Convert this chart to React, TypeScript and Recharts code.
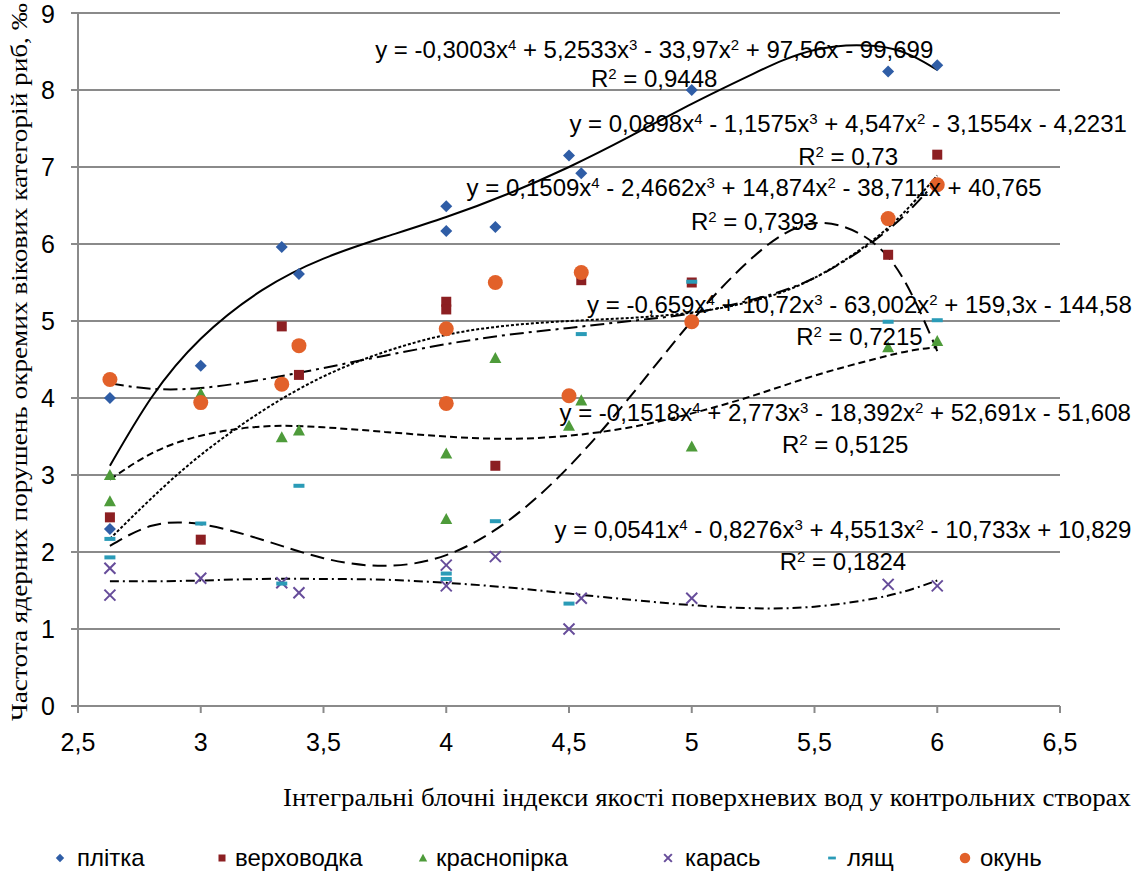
import React from 'react';
import { ComposedChart, Scatter, Line, XAxis, YAxis, CartesianGrid } from 'recharts';

// axis ticks
const xTicks = [2.5, 3, 3.5, 4, 4.5, 5, 5.5, 6, 6.5];
const yTicks = [0, 1, 2, 3, 4, 5, 6, 7, 8, 9];

// observed points per species
const plitka = [
  { x: 2.63, y: 4.0 }, { x: 2.63, y: 2.3 }, { x: 3.0, y: 4.42 }, { x: 3.33, y: 5.96 },
  { x: 3.4, y: 5.61 }, { x: 4.0, y: 6.49 }, { x: 4.0, y: 6.17 }, { x: 4.2, y: 6.22 },
  { x: 4.5, y: 7.15 }, { x: 4.55, y: 6.92 }, { x: 5.0, y: 8.0 }, { x: 5.8, y: 8.24 },
  { x: 6.0, y: 8.32 },
];
const verkhovodka = [
  { x: 2.63, y: 2.45 }, { x: 3.0, y: 2.16 }, { x: 3.33, y: 4.93 }, { x: 3.4, y: 4.3 },
  { x: 4.0, y: 5.25 }, { x: 4.0, y: 5.15 }, { x: 4.2, y: 3.12 }, { x: 4.55, y: 5.53 },
  { x: 5.0, y: 5.5 }, { x: 5.8, y: 5.86 }, { x: 6.0, y: 7.16 },
];
const krasnopirka = [
  { x: 2.63, y: 3.0 }, { x: 2.63, y: 2.66 }, { x: 3.0, y: 4.06 }, { x: 3.33, y: 3.49 },
  { x: 3.4, y: 3.58 }, { x: 4.0, y: 3.28 }, { x: 4.0, y: 2.43 }, { x: 4.2, y: 4.52 },
  { x: 4.5, y: 3.64 }, { x: 4.55, y: 3.97 }, { x: 5.0, y: 3.37 }, { x: 5.8, y: 4.66 },
  { x: 6.0, y: 4.74 },
];
const karas = [
  { x: 2.63, y: 1.79 }, { x: 2.63, y: 1.44 }, { x: 3.0, y: 1.66 }, { x: 3.33, y: 1.6 },
  { x: 3.4, y: 1.47 }, { x: 4.0, y: 1.83 }, { x: 4.0, y: 1.56 }, { x: 4.2, y: 1.94 },
  { x: 4.5, y: 1.0 }, { x: 4.55, y: 1.4 }, { x: 5.0, y: 1.4 }, { x: 5.8, y: 1.58 },
  { x: 6.0, y: 1.56 },
];
const lyashch = [
  { x: 2.63, y: 2.17 }, { x: 2.63, y: 1.93 }, { x: 3.0, y: 2.37 }, { x: 3.33, y: 1.59 },
  { x: 3.4, y: 2.86 }, { x: 4.0, y: 1.65 }, { x: 4.0, y: 1.72 }, { x: 4.2, y: 2.4 },
  { x: 4.5, y: 1.33 }, { x: 4.55, y: 4.83 }, { x: 5.0, y: 5.51 }, { x: 5.8, y: 4.99 },
  { x: 6.0, y: 5.01 },
];
const okun = [
  { x: 2.63, y: 4.24 }, { x: 3.0, y: 3.94 }, { x: 3.33, y: 4.18 }, { x: 3.4, y: 4.68 },
  { x: 4.0, y: 4.9 }, { x: 4.0, y: 3.93 }, { x: 4.2, y: 5.5 }, { x: 4.5, y: 4.03 },
  { x: 4.55, y: 5.63 }, { x: 5.0, y: 4.99 }, { x: 5.8, y: 6.33 }, { x: 6.0, y: 6.77 },
];

// trend curves
const trendX = [2.63, 2.8, 3.0, 3.25, 3.5, 3.75, 4.0, 4.25, 4.5, 4.75, 5.0, 5.25, 5.5, 5.75, 5.9, 6.0];
const plitkaTrend = [3.12, 4.01, 4.77, 5.4, 5.81, 6.09, 6.35, 6.65, 7.0, 7.4, 7.82, 8.21, 8.52, 8.57, 8.44, 8.26];
const verkhovodkaTrend = [2.17, 2.7, 3.26, 3.83, 4.28, 4.6, 4.82, 4.94, 5.0, 5.04, 5.11, 5.26, 5.56, 6.08, 6.53, 6.89];
const krasnopirkaTrend = [2.94, 3.28, 3.51, 3.63, 3.62, 3.56, 3.5, 3.47, 3.51, 3.62, 3.8, 4.03, 4.29, 4.51, 4.62, 4.66];
const karasTrend = [1.62, 1.62, 1.63, 1.65, 1.65, 1.64, 1.6, 1.54, 1.46, 1.38, 1.31, 1.27, 1.29, 1.4, 1.52, 1.63];
const lyashchTrend = [2.08, 2.34, 2.36, 2.16, 1.92, 1.82, 1.96, 2.4, 3.11, 4.02, 5.0, 5.83, 6.27, 5.99, 5.32, 4.61];
const okunTrend = [4.19, 4.12, 4.13, 4.24, 4.39, 4.55, 4.7, 4.82, 4.91, 5.0, 5.1, 5.28, 5.56, 6.06, 6.48, 6.83];

// trendline equations and R², anchored in data units
const equations = [
  { x: 4.847, y: 8.42, text: 'y = -0,3003x⁴ + 5,2533x³ - 33,97x² + 97,56x - 99,699' },
  { x: 4.847, y: 8.04, text: 'R² = 0,9448' },
  { x: 5.637, y: 7.46, text: 'y = 0,0898x⁴ - 1,1575x³ + 4,547x² - 3,1554x - 4,2231' },
  { x: 5.637, y: 7.03, text: 'R² = 0,73' },
  { x: 5.254, y: 6.62, text: 'y = 0,1509x⁴ - 2,4662x³ + 14,874x² - 38,711x + 40,765' },
  { x: 5.254, y: 6.18, text: 'R² = 0,7393' },
  { x: 5.683, y: 5.1, text: 'y = -0,659x⁴ + 10,72x³ - 63,002x² + 159,3x - 144,58' },
  { x: 5.683, y: 4.69, text: 'R² = 0,7215' },
  { x: 5.625, y: 3.7, text: 'y = -0,1518x⁴ + 2,773x³ - 18,392x² + 52,691x - 51,608' },
  { x: 5.625, y: 3.29, text: 'R² = 0,5125' },
  { x: 5.616, y: 2.18, text: 'y = 0,0541x⁴ - 0,8276x³ + 4,5513x² - 10,733x + 10,829' },
  { x: 5.616, y: 1.77, text: 'R² = 0,1824' },
];

const SANS = '"Liberation Sans", Arial, sans-serif';
const SERIF = '"Liberation Serif", "Times New Roman", serif';
const GRID = '#8a8a8a';

const toPts = (ys: number[]) => trendX.map((x, i) => ({ x, y: ys[i] }));

const series = [
  { name: 'плітка', data: plitka, trend: plitkaTrend, color: '#2f5da6', marker: 'diamond', dash: undefined },
  { name: 'верховодка', data: verkhovodka, trend: verkhovodkaTrend, color: '#8c1f22', marker: 'square', dash: '3 2' },
  { name: 'краснопірка', data: krasnopirka, trend: krasnopirkaTrend, color: '#4e9b3a', marker: 'triangle', dash: '7 4' },
  { name: 'карась', data: karas, trend: karasTrend, color: '#664c9a', marker: 'cross', dash: '9 4 2 4' },
  { name: 'лящ', data: lyashch, trend: lyashchTrend, color: '#2a9bb7', marker: 'dash', dash: '14 7' },
  { name: 'окунь', data: okun, trend: okunTrend, color: '#e2612a', marker: 'circle', dash: '14 5 3 5' },
];

function marker(kind: string, cx: number, cy: number, color: string, s = 1) {
  if (kind === 'diamond') {
    const r = 6 * s;
    return <polygon points={`${cx},${cy - r} ${cx + r},${cy} ${cx},${cy + r} ${cx - r},${cy}`} fill={color} />;
  }
  if (kind === 'square') {
    const h = 5 * s;
    return <rect x={cx - h} y={cy - h} width={2 * h} height={2 * h} fill={color} />;
  }
  if (kind === 'triangle') {
    const h = 6 * s;
    return <polygon points={`${cx},${cy - h} ${cx + h},${cy + h * 0.85} ${cx - h},${cy + h * 0.85}`} fill={color} />;
  }
  if (kind === 'cross') {
    const h = 5.5 * s;
    return (
      <g stroke={color} strokeWidth={2}>
        <line x1={cx - h} y1={cy - h} x2={cx + h} y2={cy + h} />
        <line x1={cx - h} y1={cy + h} x2={cx + h} y2={cy - h} />
      </g>
    );
  }
  if (kind === 'dash') {
    return <rect x={cx - 5.5 * s} y={cy - 2 * s} width={11 * s} height={4 * s} fill={color} />;
  }
  return <circle cx={cx} cy={cy} r={7.5 * s} fill={color} />;
}

// x⁴ etc. drawn as raised small digits
const SUP: Record<string, string> = { '⁴': '4', '³': '3', '²': '2' };
function eqParts(text: string) {
  const pieces = text.split(/([⁴³²])/).filter((p) => p !== '');
  let raised = false;
  return pieces.map((p, i) => {
    if (SUP[p]) {
      raised = true;
      return (
        <tspan key={i} dy={-8} fontSize={15}>
          {SUP[p]}
        </tspan>
      );
    }
    const dy = raised ? 8 : undefined;
    raised = false;
    return (
      <tspan key={i} dy={dy}>
        {p}
      </tspan>
    );
  });
}

const legendPos = [
  { m: 60, t: 77 },
  { m: 222, t: 235 },
  { m: 423, t: 436 },
  { m: 668, t: 685 },
  { m: 832, t: 847 },
  { m: 965, t: 980 },
];

export default function App() {
  return (
    <div style={{ position: 'absolute', left: 0, top: 0, width: 1137, height: 872, background: '#fff' }}>
      <ComposedChart width={1137} height={872} margin={{ top: 13, right: 77, left: 0, bottom: 106 }}>
        <CartesianGrid vertical={false} stroke={GRID} strokeWidth={2} />
        <XAxis
          type="number"
          dataKey="x"
          domain={[2.5, 6.5]}
          ticks={xTicks}
          height={60}
          stroke={GRID}
          strokeWidth={2}
          tickSize={7}
          tickMargin={20}
          tick={{ fill: '#000', fontSize: 25, fontFamily: SANS }}
          tickFormatter={(v) => String(v).replace('.', ',')}
        />
        <YAxis
          type="number"
          domain={[0, 9]}
          ticks={yTicks}
          width={78}
          stroke={GRID}
          strokeWidth={2}
          tickSize={7}
          tickMargin={16}
          tick={{ fill: '#000', fontSize: 25, fontFamily: SANS }}
        />
        {series.map((s) => (
          <Scatter
            key={s.name}
            name={s.name}
            data={s.data}
            dataKey="y"
            isAnimationActive={false}
            shape={(p: any) => marker(s.marker, p.cx, p.cy, s.color)}
          />
        ))}
        {series.map((s) => (
          <Line
            key={'t' + s.name}
            data={toPts(s.trend)}
            dataKey="y"
            type="natural"
            stroke="#000"
            strokeWidth={2}
            strokeDasharray={s.dash}
            dot={false}
            activeDot={false}
            isAnimationActive={false}
          />
        ))}
        <Scatter
          data={equations}
          dataKey="y"
          isAnimationActive={false}
          shape={(p: any) => (
            <text x={p.cx} y={p.cy} textAnchor="middle" fontSize={24} fontFamily={SANS} fill="#000">
              {eqParts(p.payload.text)}
            </text>
          )}
        />
      </ComposedChart>
      <svg width={1137} height={872} style={{ position: 'absolute', left: 0, top: 0, pointerEvents: 'none' }}>
        <text
          transform="translate(27,362) rotate(-90)"
          textAnchor="middle"
          fontSize={24}
          fontFamily={SERIF}
          textLength={718}
          lengthAdjust="spacingAndGlyphs"
          fill="#000"
        >
          Частота ядерних порушень окремих вікових категорій риб, ‰
        </text>
        <text
          x={1131}
          y={806}
          textAnchor="end"
          fontSize={25}
          fontFamily={SERIF}
          textLength={848}
          lengthAdjust="spacingAndGlyphs"
          fill="#000"
        >
          Інтегральні блочні індекси якості поверхневих вод у контрольних створах
        </text>
        {series.map((s, i) => (
          <g key={'lg' + s.name}>
            {marker(s.marker, legendPos[i].m, 858, s.color, 0.7)}
            <text x={legendPos[i].t} y={866} fontSize={24} fontFamily={SANS} fill="#000">
              {s.name}
            </text>
          </g>
        ))}
      </svg>
    </div>
  );
}
